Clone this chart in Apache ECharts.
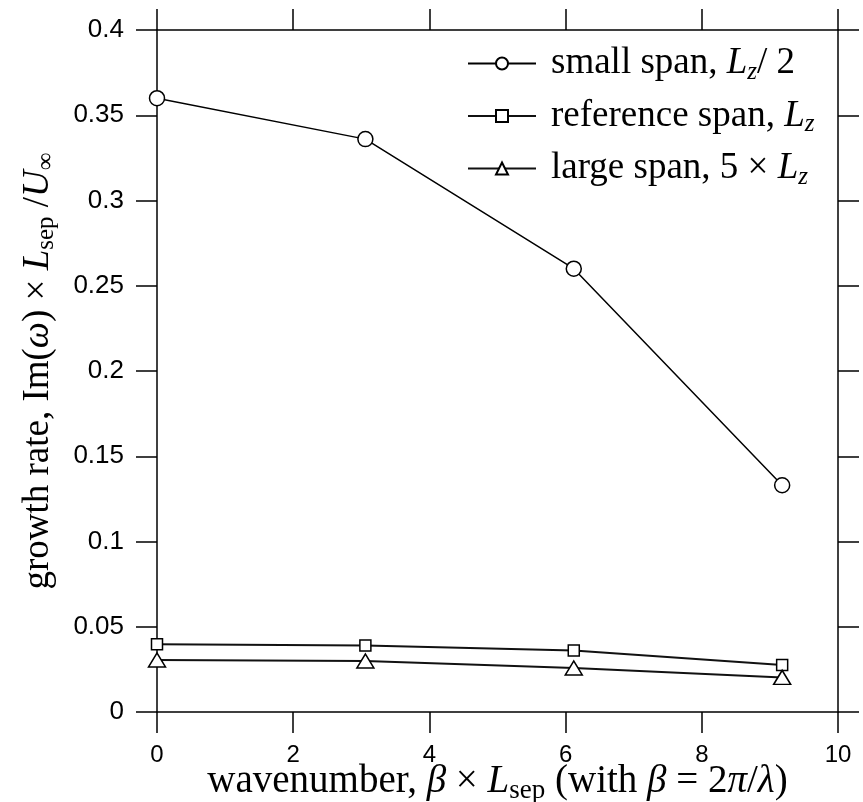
<!DOCTYPE html>
<html>
<head>
<meta charset="utf-8">
<script src="https://cdn.jsdelivr.net/npm/echarts@6/dist/echarts.min.js"></script>
<style>
  html, body { margin: 0; padding: 0; background: #fff; }
  #chart { width: 863px; height: 802px; }
</style>
</head>
<body>
<div id="chart"></div>
<script>
// wavenumber beta x Lsep
const wavenumbers = [0, 3.06, 6.12, 9.18]
// growth rate Im(omega) x Lsep / Uinf
const smallSpan = [0.360, 0.336, 0.260, 0.133]
const referenceSpan = [0.0397, 0.039, 0.036, 0.0276]
const largeSpan = [0.0305, 0.0299, 0.0258, 0.0203]
const seriesNames = ['small', 'reference', 'large']

const pairs = (ys) => wavenumbers.map((x, i) => [x, ys[i]])

const serif = 'Liberation Serif'
const sans = 'Liberation Sans'
/** rich styles for the LaTeX-like labels, size = main font size */
function makeRich (size) {
  const sub = Math.round(size * 0.68)
  return {
    n: { fontFamily: serif, fontSize: size, lineHeight: size + 5, color: '#000' },
    it: { fontFamily: serif, fontSize: size, lineHeight: size + 5, fontStyle: 'italic', color: '#000' },
    sub: { fontFamily: serif, fontSize: sub, lineHeight: 16, verticalAlign: 'bottom', color: '#000' },
    subit: { fontFamily: serif, fontSize: sub, lineHeight: 16, verticalAlign: 'bottom', fontStyle: 'italic', color: '#000' }
  }
}
const legendText = {
  small: '{n|small span, }{it|L}{subit|z}{n|/ 2}',
  reference: '{n|reference span, }{it|L}{subit|z}',
  large: '{n|large span, 5 × }{it|L}{subit|z}'
}

const chart = echarts.init(document.getElementById('chart'))
const tickLine = { length: 21, lineStyle: { color: '#000', width: 1.5 } }
const frameLine = { show: true, onZero: false, lineStyle: { color: '#000', width: 1.5 } }

const option = {
  animation: false,
  backgroundColor: '#fff',
  grid: { left: 157, right: 25, top: 30, bottom: 90, outerBoundsMode: 'none', containLabel: false },
  legend: {
    orient: 'vertical',
    left: 462,
    top: 40,
    itemWidth: 68,
    itemHeight: 15,
    itemGap: 13,
    data: seriesNames,
    formatter: (name) => legendText[name],
    textStyle: { rich: makeRich(37), padding: [0, 0, 0, 10] }
  },
  xAxis: [
    {
      type: 'value',
      min: 0,
      max: 10,
      interval: 2,
      position: 'bottom',
      axisLine: frameLine,
      axisTick: tickLine,
      splitLine: { show: false },
      axisLabel: { fontFamily: sans, fontSize: 24, color: '#000', margin: 31 },
      name: '{n|wavenumber, }{it|β}{n| × }{it|L}{sub|sep}{n| (with }{it|β}{n| = 2}{it|π}{n|/}{it|λ}{n|)}',
      nameLocation: 'middle',
      nameGap: 48,
      nameMoveOverlap: false,
      nameTextStyle: { rich: makeRich(39) }
    },
    {
      type: 'value',
      min: 0,
      max: 10,
      interval: 2,
      position: 'top',
      axisLine: frameLine,
      axisTick: tickLine,
      splitLine: { show: false },
      axisLabel: { show: false }
    }
  ],
  yAxis: [
    {
      type: 'value',
      min: 0,
      max: 0.4,
      interval: 0.05,
      position: 'left',
      axisLine: frameLine,
      axisTick: tickLine,
      splitLine: { show: false },
      axisLabel: { fontFamily: sans, fontSize: 26, color: '#000', margin: 33 },
      name: '{n|growth rate, Im(}{it|ω}{n|) × }{it|L}{sub|sep}{n| /}{it|U}{sub|∞}',
      nameLocation: 'middle',
      nameRotate: 90,
      nameGap: 98,
      nameMoveOverlap: false,
      nameTextStyle: { rich: makeRich(37) }
    },
    {
      type: 'value',
      min: 0,
      max: 0.4,
      interval: 0.05,
      position: 'right',
      axisLine: frameLine,
      axisTick: tickLine,
      splitLine: { show: false },
      axisLabel: { show: false }
    }
  ],
  series: [
    {
      name: 'small',
      type: 'line',
      data: pairs(smallSpan),
      symbol: 'circle',
      symbolSize: 15,
      lineStyle: { color: '#000', width: 1.5 },
      itemStyle: { color: '#fff', borderColor: '#000', borderWidth: 1.5 }
    },
    {
      name: 'reference',
      type: 'line',
      data: pairs(referenceSpan),
      symbol: 'rect',
      symbolSize: 11,
      lineStyle: { color: '#111', width: 2 },
      itemStyle: { color: '#fff', borderColor: '#000', borderWidth: 1.5 }
    },
    {
      name: 'large',
      type: 'line',
      data: pairs(largeSpan),
      symbol: 'triangle',
      symbolSize: [17, 14],
      lineStyle: { color: '#111', width: 2 },
      itemStyle: { color: '#fff', borderColor: '#000', borderWidth: 1.5 }
    }
  ]
}
chart.setOption(option)
</script>
</body>
</html>
